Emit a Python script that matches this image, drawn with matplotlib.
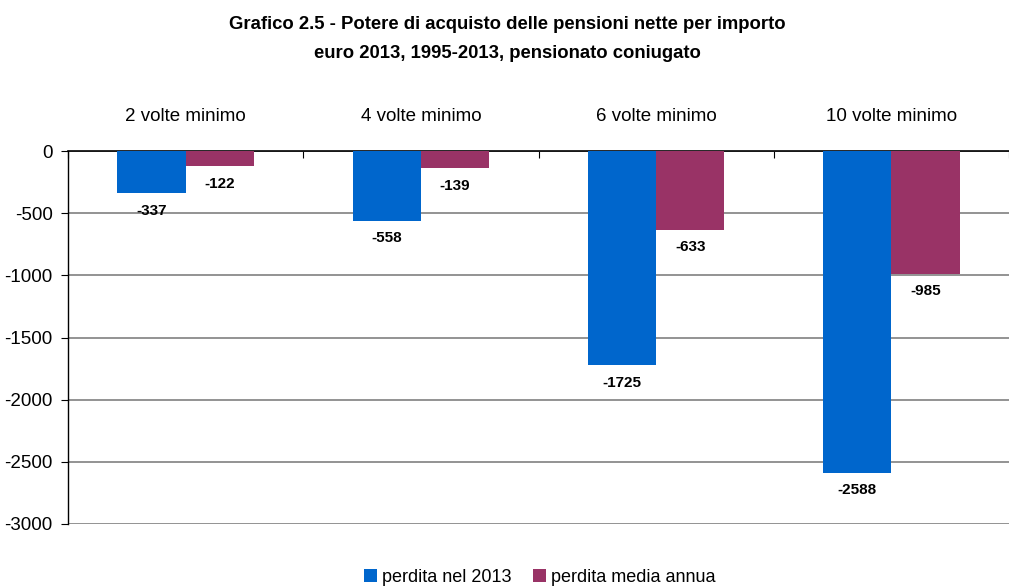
import matplotlib
matplotlib.use("Agg")
import matplotlib.pyplot as plt
import numpy as np

plt.rcParams.update({
    "font.family": ["Liberation Sans", "DejaVu Sans"],
    "axes.unicode_minus": False,
})

categories = ["2 volte minimo", "4 volte minimo", "6 volte minimo", "10 volte minimo"]
perdita_2013 = [-337, -558, -1725, -2588]
perdita_media = [-122, -139, -633, -985]
series_names = ["perdita nel 2013", "perdita media annua"]
yticks = [0, -500, -1000, -1500, -2000, -2500, -3000]

BLUE = "#0066CC"
PURPLE = "#993366"

fig = plt.figure(figsize=(10.09, 5.86), dpi=100)
ax = fig.add_axes([0.0674, 0.106, 0.9326, 0.636])

x = np.arange(len(categories))
w = 0.29
b1 = ax.bar(x - w / 2, perdita_2013, width=w, color=BLUE, zorder=3, label=series_names[0])
b2 = ax.bar(x + w / 2, perdita_media, width=w, color=PURPLE, zorder=3, label=series_names[1])

# value labels under each bar end
for bars, vals in ((b1, perdita_2013), (b2, perdita_media)):
    for bar, v in zip(bars, vals):
        ax.text(bar.get_x() + bar.get_width() / 2, v - 85, f"{v}",
                ha="center", va="top", fontsize=11, fontweight="bold",
                color="black", zorder=5)

ax.set_xlim(-0.5, len(categories) - 0.5)
ax.set_ylim(-3000, 0)
ax.set_yticks(yticks)
ax.set_yticklabels([str(t) for t in yticks], fontsize=13.5)
ax.yaxis.grid(True, color="#808080", linewidth=1.2, zorder=0)

# category boundaries as ticks on the zero line
ax.xaxis.tick_top()
ax.set_xticks(np.arange(len(categories) + 1) - 0.5)
ax.set_xticklabels([])
ax.tick_params(axis="x", direction="in", length=5, color="black")
ax.tick_params(axis="y", direction="out", length=5, color="black", pad=6)

for i, c in enumerate(categories):
    ax.text(i, 210, c, ha="center", va="bottom", fontsize=13.5, clip_on=False)

for s in ("right", "bottom"):
    ax.spines[s].set_visible(False)
ax.spines["top"].set_color("black")
ax.spines["left"].set_color("black")
ax.spines["top"].set_linewidth(1.2)
ax.spines["left"].set_linewidth(1.0)

fig.text(0.503, 0.973, "Grafico 2.5 - Potere di acquisto delle pensioni nette per importo\n"
         "euro 2013, 1995-2013, pensionato coniugato",
         ha="center", va="top", fontsize=13.3, fontweight="bold", linespacing=1.95)

fig.legend(handles=[b1, b2], labels=series_names, loc="lower center",
           bbox_to_anchor=(0.535, -0.027), ncol=2, frameon=False, fontsize=13,
           handlelength=0.7, handleheight=0.7, handletextpad=0.3, columnspacing=1.2)

fig.savefig("out.png", dpi=100, facecolor="white")
